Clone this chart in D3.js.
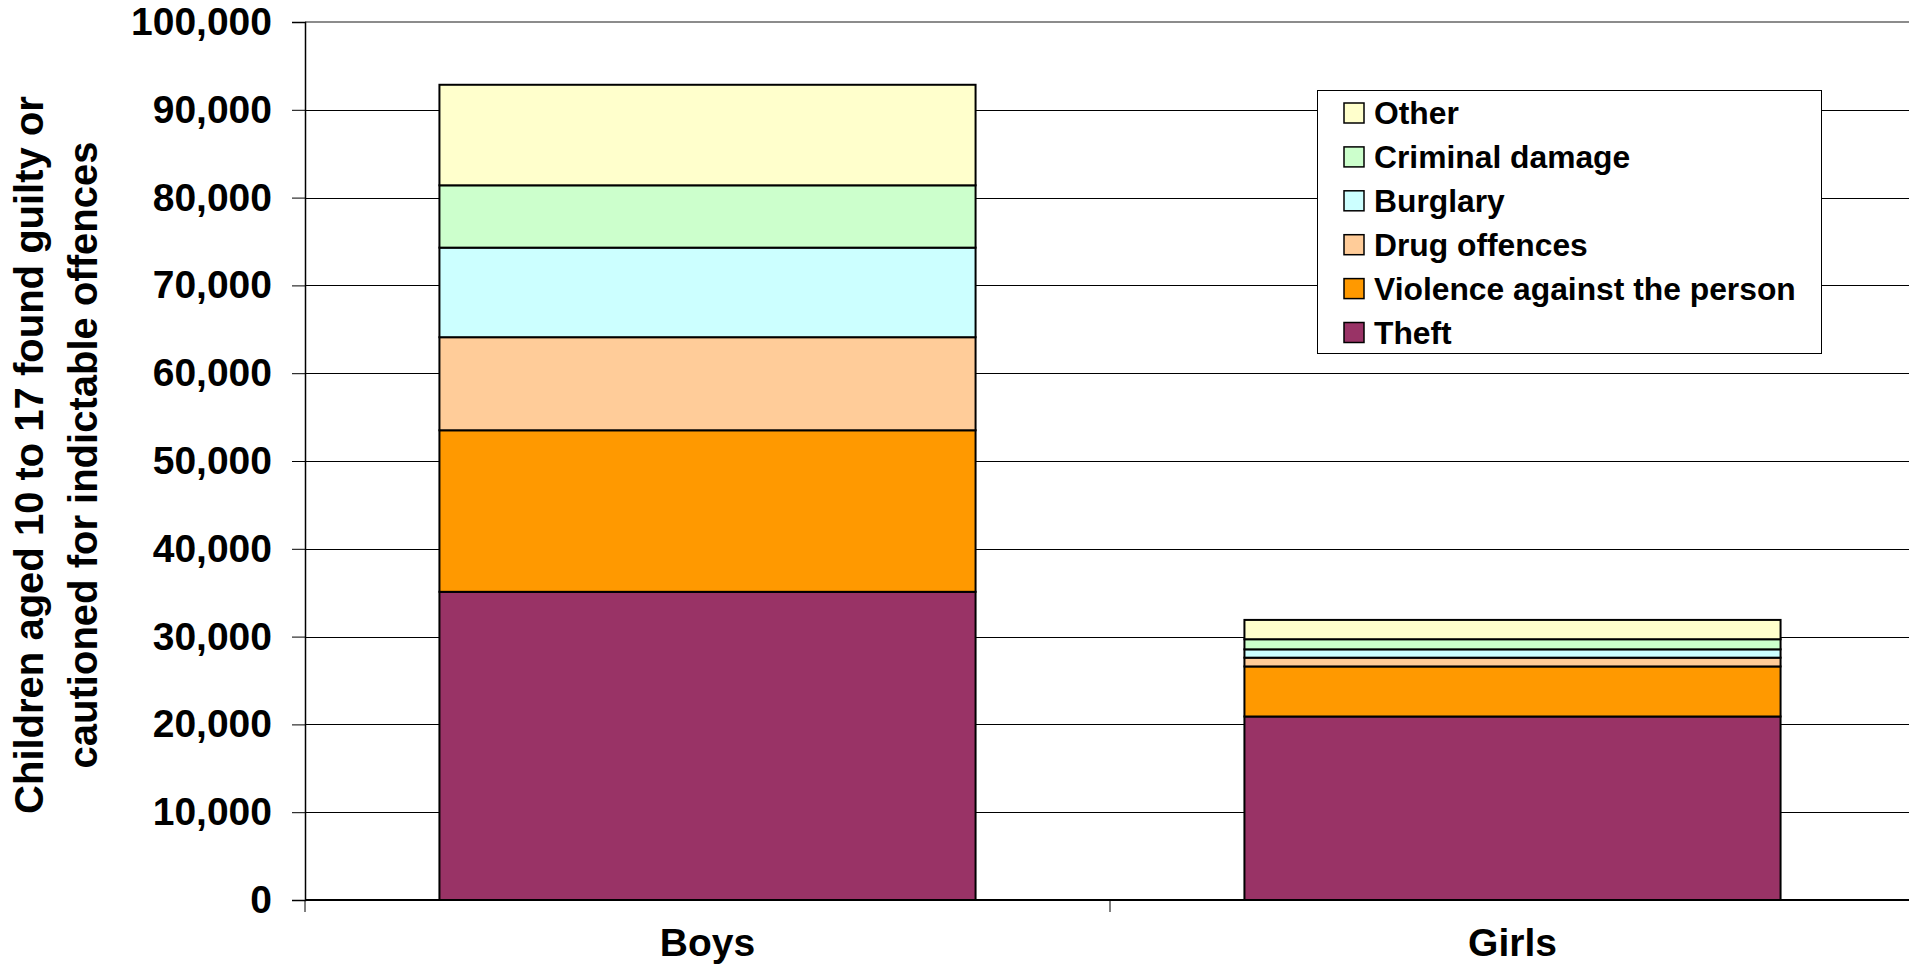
<!DOCTYPE html>
<html>
<head>
<meta charset="utf-8">
<script src="https://cdn.jsdelivr.net/npm/d3@7"></script>
<style>
  html, body { margin: 0; padding: 0; background: #ffffff; overflow: hidden; }
  svg { display: block; font-family: Arial, "Liberation Sans", sans-serif; font-weight: bold; }
</style>
</head>
<body>
<svg id="chart" width="1909" height="965"></svg>
<script>
// ---- data ----
const categories = ["Boys", "Girls"];
const seriesNames = ["Theft", "Violence against the person", "Drug offences", "Burglary", "Criminal damage", "Other"];
const theft     = [35100, 20900];
const violence  = [18400, 5700];
const drugs     = [10600, 1000];
const burglary  = [10200, 950];
const damage    = [7100, 1150];
const other     = [11450, 2200];
const yTicks = [0, 10000, 20000, 30000, 40000, 50000, 60000, 70000, 80000, 90000, 100000];
const yTitleLines = ["Children aged 10 to 17 found guilty or", "cautioned for indictable offences"];

const seriesValues = [theft, violence, drugs, burglary, damage, other];
const colors = ["#993366", "#FF9900", "#FFCC99", "#CCFFFF", "#CCFFCC", "#FFFFCC"];

// ---- layout ----
const svg = d3.select("#chart");
const plot = { left: 305, right: 1915, top: 22, bottom: 900 };

const x = d3.scaleBand().domain(categories)
  .range([plot.left, plot.right]).paddingInner(0.334).paddingOuter(0.167);
const y = d3.scaleLinear().domain([0, 100000]).range([plot.bottom, plot.top]);

const rows = categories.map((c, i) => {
  const r = { cat: c };
  seriesNames.forEach((s, j) => r[s] = seriesValues[j][i]);
  return r;
});
const stacked = d3.stack().keys(seriesNames)(rows);

// gridlines
svg.append("g").selectAll("line")
  .data(yTicks.filter(t => t > 0 && t < 100000))
  .join("line")
  .attr("x1", plot.left).attr("x2", plot.right)
  .attr("y1", d => Math.round(y(d)) + 0.5).attr("y2", d => Math.round(y(d)) + 0.5)
  .attr("stroke", "#000").attr("stroke-width", 1);

// plot area top border
svg.append("line")
  .attr("x1", plot.left).attr("x2", plot.right)
  .attr("y1", y(100000)).attr("y2", y(100000))
  .attr("stroke", "#8c8c8c").attr("stroke-width", 2);

// bars
svg.append("g").selectAll("g")
  .data(stacked).join("g")
  .attr("fill", (d, i) => colors[i])
  .selectAll("rect")
  .data(d => d).join("rect")
  .attr("x", d => x(d.data.cat))
  .attr("width", x.bandwidth())
  .attr("y", d => y(d[1]))
  .attr("height", d => y(d[0]) - y(d[1]))
  .attr("stroke", "#000").attr("stroke-width", 2);

// y axis
const yAxis = svg.append("g")
  .attr("transform", `translate(${plot.left},0)`)
  .call(d3.axisLeft(y).tickValues(yTicks).tickSize(13).tickPadding(20)
    .tickFormat(d3.format(",")));
yAxis.select(".domain").attr("stroke", "#000").attr("stroke-width", 1.5);
yAxis.selectAll(".tick line").attr("stroke", "#000");
yAxis.selectAll("text").attr("font-size", 39).attr("fill", "#000")
  .attr("font-family", "Arial, 'Liberation Sans', sans-serif").attr("font-weight", "bold");

// x axis
const xAxis = svg.append("g")
  .attr("transform", `translate(0,${plot.bottom})`);
xAxis.append("line").attr("x1", plot.left).attr("x2", plot.right)
  .attr("y1", 0).attr("y2", 0).attr("stroke", "#000").attr("stroke-width", 2);
const step = x.step();
const boundaries = [plot.left, plot.left + step, plot.left + 2 * step];
xAxis.selectAll("line.tk").data(boundaries).join("line").attr("class", "tk")
  .attr("x1", d => d).attr("x2", d => d).attr("y1", 0).attr("y2", 12)
  .attr("stroke", "#000").attr("stroke-width", 1);
xAxis.selectAll("text").data(categories).join("text")
  .attr("x", d => x(d) + x.bandwidth() / 2).attr("y", 56)
  .attr("text-anchor", "middle")
  .attr("font-size", 39).attr("fill", "#000").text(d => d);

// y title
svg.append("g").selectAll("text").data(yTitleLines).join("text")
  .attr("transform", (d, i) => `translate(${i === 0 ? 43 : 97},455) rotate(-90)`)
  .attr("text-anchor", "middle").attr("font-size", 40).attr("fill", "#000")
  .text(d => d);

// legend
const legend = svg.append("g");
legend.append("rect").attr("x", 1317.5).attr("y", 90.5).attr("width", 504).attr("height", 263)
  .attr("fill", "#fff").attr("stroke", "#000").attr("stroke-width", 1);
const legendOrder = seriesNames.map((s, i) => ({ name: s, color: colors[i] })).reverse();
const li = legend.selectAll("g.item").data(legendOrder).join("g").attr("class", "item")
  .attr("transform", (d, i) => `translate(1344,${113 + i * 43.9})`);
li.append("rect").attr("x", 0).attr("y", -10).attr("width", 20).attr("height", 20)
  .attr("fill", d => d.color).attr("stroke", "#000").attr("stroke-width", 1.5);
li.append("text").attr("x", 30).attr("y", 0).attr("dy", "0.36em")
  .attr("font-size", 31.8).attr("fill", "#000").text(d => d.name);
</script>
</body>
</html>
